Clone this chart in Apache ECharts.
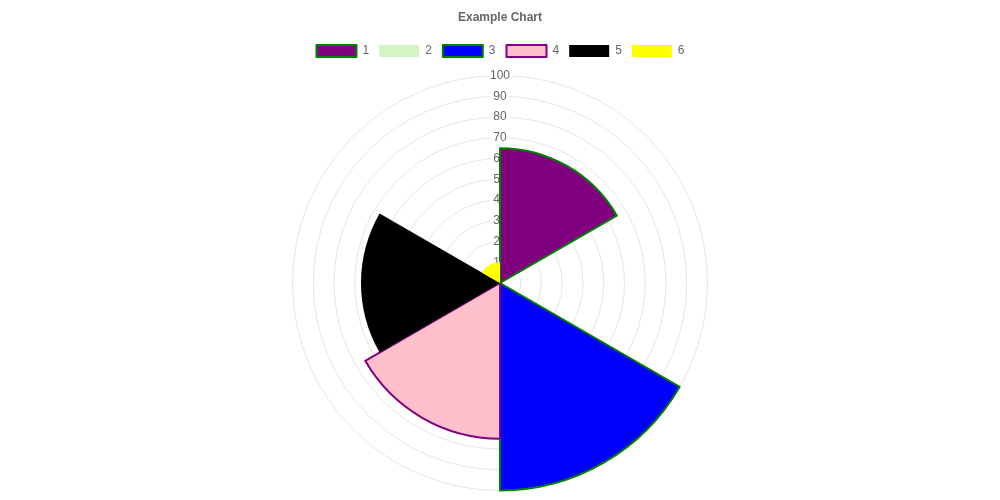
<!DOCTYPE html>
<html>
<head>
<meta charset="utf-8">
<script src="https://cdn.jsdelivr.net/npm/echarts@6/dist/echarts.min.js"></script>
<style>
html,body{margin:0;padding:0;background:#fff;}
#chart{width:1000px;height:500px;}
</style>
</head>
<body>
<div id="chart"></div>
<script>
const categories = ['1', '2', '3', '4', '5', '6'];
const values = [65, 0, 100, 75, 67, 10];
const fillColors = ['#800080', '#d2f5c3', '#0000ff', '#ffc0cb', '#000000', '#ffff00'];
const borderColors = ['#008000', '#d2f5c3', '#008000', '#800080', '#000000', '#ffff00'];
const borderWidths = [2, 0, 2, 2, 0, 0];
const tickValues = [0, 10, 20, 30, 40, 50, 60, 70, 80, 90, 100];

const font = 'Liberation Sans, Arial, Helvetica, sans-serif';
const center = [500, 283];
const R = 207.5;

const chart = echarts.init(document.getElementById('chart'), null, {renderer: 'canvas'});
chart.setOption({
  animation: false,
  backgroundColor: '#fff',
  title: {
    text: 'Example Chart',
    left: 'center',
    top: 7,
    textStyle: {fontFamily: font, fontSize: 12, fontWeight: 'bold', color: '#666'}
  },
  legend: {
    top: 39,
    left: 'center',
    icon: 'rect',
    itemWidth: 40,
    itemHeight: 12,
    itemGap: 10,
    data: categories,
    textStyle: {fontFamily: font, fontSize: 12, color: '#666', padding: [0, 0, 0, 1]}
  },
  polar: {center: center, radius: R},
  angleAxis: {
    type: 'value', startAngle: 90, min: 0, max: 360,
    axisLine: {show: false}, axisTick: {show: false}, axisLabel: {show: false},
    splitLine: {show: false}
  },
  radiusAxis: {
    type: 'value', min: tickValues[0], max: tickValues[tickValues.length - 1],
    interval: tickValues[1] - tickValues[0],
    axisLine: {show: false}, axisTick: {show: false},
    splitLine: {show: true, lineStyle: {color: '#e6e6e6', width: 1}},
    axisLabel: {
      showMinLabel: false,
      margin: 0,
      align: 'center',
      verticalAlign: 'middle',
      fontFamily: font, fontSize: 12, color: '#666',
      backgroundColor: 'rgba(255,255,255,0.75)',
      padding: [0, 2, 0, 2],
      rotate: 0
    },
    z: 0
  },
  series: [{
    type: 'pie',
    roseType: 'area',
    center: center,
    radius: [0, R],
    startAngle: 90,
    clockwise: true,
    label: {show: false},
    labelLine: {show: false},
    emphasis: {disabled: true},
    z: 2,
    data: categories.map((c, i) => ({
      name: c,
      value: values[i],
      itemStyle: {color: fillColors[i], borderColor: borderColors[i], borderWidth: borderWidths[i]}
    }))
  }]
});
</script>
</body>
</html>
